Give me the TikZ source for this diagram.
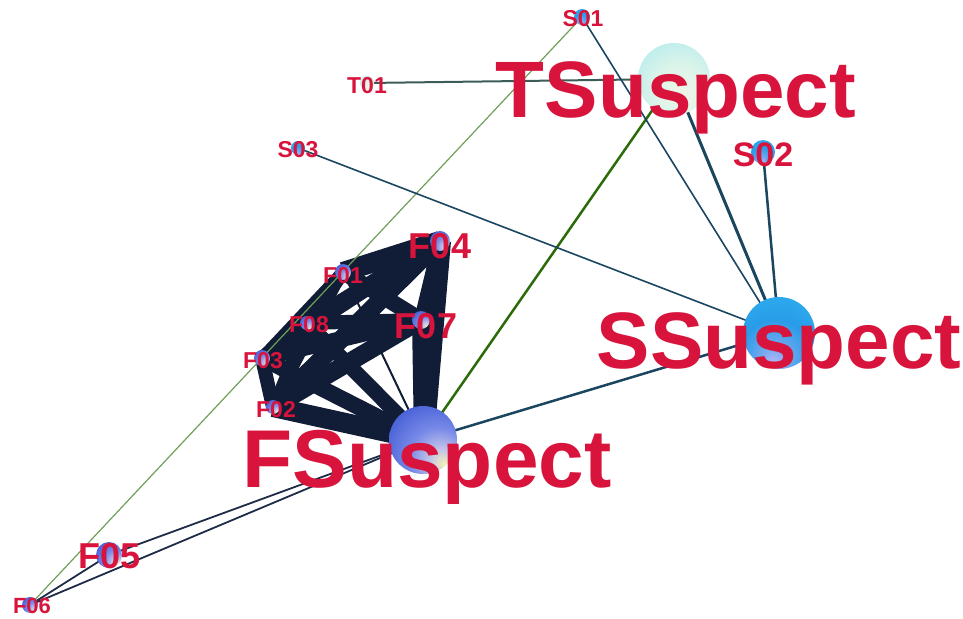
\documentclass[tikz,border=0pt]{standalone}
\usepackage{fontspec}
\setmainfont{Liberation Sans}
\usetikzlibrary{backgrounds}

% label and edge colours
\definecolor{lbl}{HTML}{D8143C}
\definecolor{navy}{HTML}{111D36}
\definecolor{slate}{HTML}{1A4660}
\definecolor{tline}{HTML}{3C5C58}
\definecolor{dgreen}{HTML}{2B6B0A}
\definecolor{lgreen}{HTML}{6F9F58}
\definecolor{fline}{HTML}{1E2C48}

% sphere shadings (light from the lower right)
\pgfdeclareradialshading{fball}{\pgfqpoint{16bp}{-18bp}}{%
  color(0bp)=(rgb,255:red,244;green,242;blue,184);
  color(9bp)=(rgb,255:red,196;green,196;blue,232);
  color(22bp)=(rgb,255:red,118;green,136;blue,232);
  color(38bp)=(rgb,255:red,72;green,96;blue,214);
  color(56bp)=(rgb,255:red,88;green,118;blue,238);
  color(72bp)=(rgb,255:red,120;green,150;blue,248)}
\pgfdeclareradialshading{sball}{\pgfqpoint{-4bp}{-22bp}}{%
  color(0bp)=(rgb,255:red,184;green,184;blue,244);
  color(10bp)=(rgb,255:red,112;green,168;blue,240);
  color(24bp)=(rgb,255:red,40;green,156;blue,232);
  color(46bp)=(rgb,255:red,48;green,180;blue,240);
  color(68bp)=(rgb,255:red,96;green,220;blue,250)}
\pgfdeclareradialshading{tball}{\pgfqpoint{6bp}{-12bp}}{%
  color(0bp)=(rgb,255:red,240;green,246;blue,232);
  color(18bp)=(rgb,255:red,220;green,244;blue,234);
  color(40bp)=(rgb,255:red,176;green,234;blue,236);
  color(64bp)=(rgb,255:red,140;green,218;blue,230)}

\begin{document}
\begin{tikzpicture}[x=1pt,y=-1pt,
  sph/.style={circle,inner sep=0pt,draw=none},
  fsph/.style={sph,shading=fball},
  ssph/.style={sph,shading=sball},
  tsph/.style={sph,shading=tball},
  lab/.style={text=lbl,anchor=base,inner sep=0pt},
  bigl/.style={lab,font=\bfseries\fontsize{80}{80}\selectfont},
  midl/.style={lab,font=\bfseries\fontsize{36}{36}\selectfont},
  smal/.style={lab,font=\bfseries\fontsize{23}{23}\selectfont},
  cluster/.style={navy},
  sline/.style={slate},
]
\useasboundingbox (0,0) rectangle (963,618);

% spheres
\node[tsph,minimum size=72pt] (TS)  at (674,79)  {};
\node[ssph,minimum size=72pt] (SS)  at (779,333) {};
\node[fsph,minimum size=68pt] (FS)  at (423,440) {};
\node[ssph,minimum size=16pt] (S01) at (582,17)  {};
\node[tsph,minimum size=14pt] (T01) at (367,83)  {};
\node[ssph,minimum size=14pt] (S03) at (298,148) {};
\node[ssph,minimum size=24pt] (S02) at (763,152) {};
\node[fsph,minimum size=20pt] (F04) at (440,241) {};
\node[fsph,minimum size=18pt] (F07) at (421,320) {};
\node[fsph,minimum size=16pt] (F01) at (343,272) {};
\node[fsph,minimum size=14pt] (F08) at (307,323) {};
\node[fsph,minimum size=16pt] (F03) at (262,358) {};
\node[fsph,minimum size=14pt] (F02) at (273,407) {};
\node[fsph,minimum size=26pt] (F05) at (109,555) {};
\node[fsph,minimum size=16pt] (F06) at (30,605)  {};

% connectors
\begin{scope}[on background layer]
  \foreach \a/\b/\w in {F01/F04/20, F04/FS/22, F07/FS/18, F02/FS/20,
      F03/FS/16, F08/FS/15, F02/F03/14, F03/F08/14, F08/F01/14,
      F03/F01/12, F02/F08/11, F02/F01/10, F04/F08/16, F04/F03/14,
      F04/F02/18, F04/F07/14, F07/F01/16, F07/F08/14, F07/F03/16,
      F07/F02/18}
    \draw[cluster,line width=\w pt] (\a.center) -- (\b.center);
  \draw[cluster,line width=2pt] (F01.center) -- (FS.center);
  \draw[lgreen,line width=1.2pt] (S01.center) -- (F06.center);
  \draw[tline,line width=2pt] (T01.center) -- (TS.center);
  \draw[dgreen,line width=2.5pt] (TS.center) -- (FS.center);
  \draw[sline,line width=1.6pt] (S01.center) -- (SS.center);
  \draw[sline,line width=3pt] (TS.center) -- (SS.center);
  \draw[sline,line width=2.5pt] (S02.center) -- (SS.center);
  \draw[sline,line width=1.6pt] (S03.center) -- (SS.center);
  \draw[sline,line width=2.5pt] (FS.center) -- (SS.center);
  \draw[fline,line width=1.8pt] (F05.center) -- (F06.center);
  \draw[fline,line width=1.8pt] (F05.center) -- (FS.center);
  \draw[fline,line width=1.8pt] (F06.center) -- (FS.center);
\end{scope}

% labels
\node[bigl] (lTS) at (676,117) {TSuspect};
\node[bigl] (lSS) at (779,368) {SSuspect};
\node[bigl,font=\bfseries\fontsize{82}{82}\selectfont] (lFS) at (427,487) {FSuspect};
\node[midl,font=\bfseries\fontsize{34}{34}\selectfont] (lS02) at (763,166) {S02};
\node[midl] (lF04) at (440,258) {F04};
\node[midl] (lF07) at (426,338) {F07};
\node[midl] (lF05) at (110,568) {F05};
\node[smal] (lS01) at (583,27)  {S01};
\node[smal] (lT01) at (367,93)  {T01};
\node[smal] (lS03) at (298,157) {S03};
\node[smal] (lF01) at (343,283) {F01};
\node[smal] (lF08) at (309,332) {F08};
\node[smal] (lF03) at (263,368) {F03};
\node[smal] (lF02) at (276,417) {F02};
\node[smal,font=\bfseries\fontsize{22}{22}\selectfont] (lF06) at (32,613) {F06};
\end{tikzpicture}
\end{document}
